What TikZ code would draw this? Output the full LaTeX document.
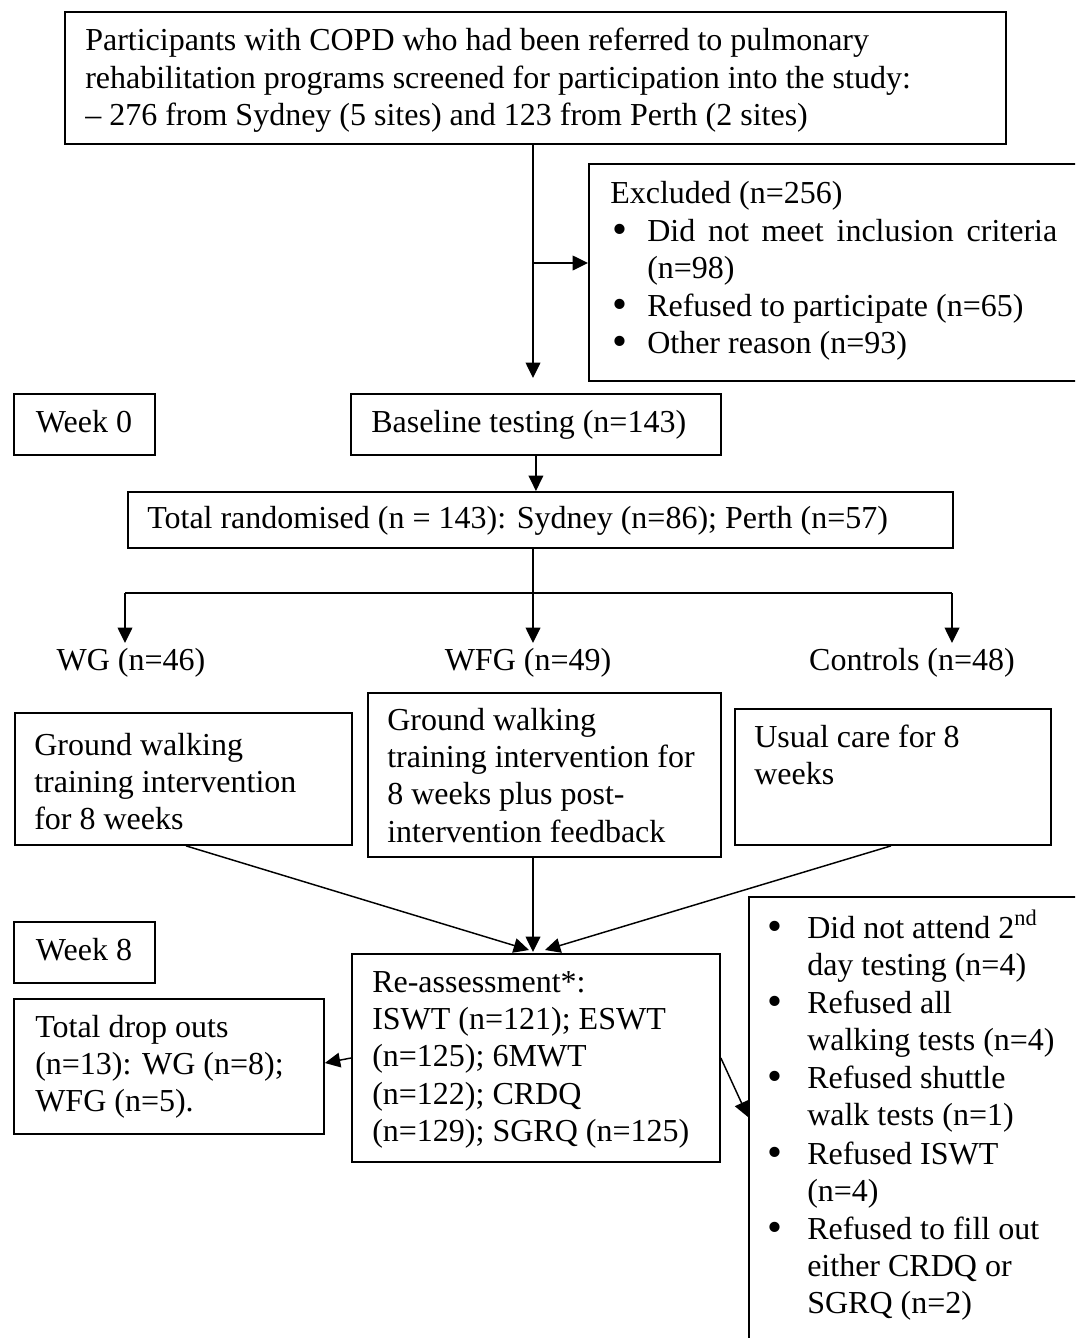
\documentclass[tikz,border=0pt]{standalone}
\usepackage{fontspec}
\setmainfont{Liberation Serif}
\usetikzlibrary{arrows.meta}
\newcommand{\mainsize}{\fontsize{24}{28.1}\selectfont}
\newcommand{\ml}[1]{\begin{tabular}[t]{@{}l@{}}#1\end{tabular}}
\tikzset{
  box/.style={draw, line width=1.4pt, anchor=north west, inner sep=0pt},
  txt/.style={anchor=base west, inner sep=0pt, font=\mainsize},
  ctxt/.style={anchor=base, inner sep=0pt, align=center, font=\mainsize},
  bul/.style={anchor=base, inner sep=0pt, font=\fontsize{32}{32}\selectfont},
  ln/.style={line width=1.1pt},
  arr/.style={line width=1.1pt, -{Triangle[length=11.5pt,width=11pt]}}
}
\begin{document}
\begin{tikzpicture}[x=0.75pt,y=-0.75pt]
\path[use as bounding box] (0,0) rectangle (1075,1338);
\clip (0,0) rectangle (1075,1338);
% boxes
\node[box, minimum width=941*0.75pt, minimum height=132*0.75pt] (top) at (64,11) {};
\node[box, minimum width=600*0.75pt, minimum height=217*0.75pt] (excl) at (588,163) {};
\node[box, minimum width=141*0.75pt, minimum height=61*0.75pt] (week0) at (13,393) {};
\node[box, minimum width=370*0.75pt, minimum height=61*0.75pt] (base) at (350,393) {};
\node[box, minimum width=825*0.75pt, minimum height=56*0.75pt] (rand) at (127,491) {};
\node[box, minimum width=337*0.75pt, minimum height=132*0.75pt] (boxWG) at (14,712) {};
\node[box, minimum width=353*0.75pt, minimum height=164*0.75pt] (boxWFG) at (367,692) {};
\node[box, minimum width=316*0.75pt, minimum height=136*0.75pt] (boxC) at (734,708) {};
\node[box, minimum width=141*0.75pt, minimum height=61*0.75pt] (week8) at (13,921) {};
\node[box, minimum width=368*0.75pt, minimum height=208*0.75pt] (reass) at (351,953) {};
\node[box, minimum width=310*0.75pt, minimum height=135*0.75pt] (drop) at (13,998) {};
\node[box, minimum width=400*0.75pt, minimum height=500*0.75pt] (rbox) at (748,896) {};
% texts
\node[txt] (topT) at (85,51) {\ml{Participants with COPD who had been referred to pulmonary\\rehabilitation programs screened for participation into the study:\\– 276 from Sydney (5 sites) and 123 from Perth (2 sites)}};
\node[txt] (exT) at (610,203) {Excluded (n=256)};
\node[bul] (exB1) at (620,243) {\textbullet};
\node[txt] (exT1) at (647,241) {\ml{\makebox[307.5pt][s]{Did not meet inclusion criteria}\\(n=98)}};
\node[bul] (exB2) at (620,318) {\textbullet};
\node[txt] (exT2) at (647,316) {Refused to participate (n=65)};
\node[bul] (exB3) at (620,355) {\textbullet};
\node[txt] (exT3) at (647,353) {Other reason (n=93)};
\node[ctxt] (w0T) at (84,432) {Week 0};
\node[txt] (baseT) at (371,432) {Baseline testing (n=143)};
\node[txt] (randT) at (147,528) {Total randomised (n = 143): Sydney (n=86); Perth (n=57)};
\node[ctxt] (lWG) at (131,670) {WG (n=46)};
\node[ctxt] (lWFG) at (528,670) {WFG (n=49)};
\node[ctxt] (lC) at (912,670) {Controls (n=48)};
\node[txt] (wgT) at (34,755) {\ml{Ground walking\\training intervention\\for 8 weeks}};
\node[txt] (wfgT) at (387,730) {\ml{Ground walking\\training intervention for\\8 weeks plus post-\\intervention feedback}};
\node[txt] (cT) at (754,747) {\ml{Usual care for 8\\weeks}};
\node[ctxt] (w8T) at (84,960) {Week 8};
\node[txt] (reT) at (372,992) {\ml{Re-assessment*:\\ISWT (n=121); ESWT\\(n=125); 6MWT\\(n=122); CRDQ\\(n=129); SGRQ (n=125)}};
\node[txt] (dropT) at (35,1037) {\ml{Total drop outs\\(n=13): WG (n=8);\\WFG (n=5).}};
\node[bul] (rB1) at (775,940) {\textbullet};
\node[txt] (rT1) at (807,938) {\ml{Did not attend 2\textsuperscript{nd}\\day testing (n=4)}};
\node[bul] (rB2) at (775,1015) {\textbullet};
\node[txt] (rT2) at (807,1013) {\ml{Refused all\\walking tests (n=4)}};
\node[bul] (rB3) at (775,1090) {\textbullet};
\node[txt] (rT3) at (807,1088) {\ml{Refused shuttle\\walk tests (n=1)}};
\node[bul] (rB4) at (775,1166) {\textbullet};
\node[txt] (rT4) at (807,1164) {\ml{Refused ISWT\\(n=4)}};
\node[bul] (rB5) at (775,1241) {\textbullet};
\node[txt] (rT5) at (807,1239) {\ml{Refused to fill out\\either CRDQ or\\SGRQ (n=2)}};
% connectors
\coordinate (t1) at (533,378);
\coordinate (b1) at (533,263);
\draw[arr] (top.south -| t1) -- (t1);
\draw[arr] (b1) -- (b1 -| excl.west);
\draw[arr] (base.south) -- (base.south |- rand.north);
\coordinate (sp) at (533,593);
\coordinate (hL) at (125,593);
\coordinate (hR) at (952,593);
\draw[ln] (rand.south -| sp) -- (sp);
\draw[ln] (hL) -- (hR);
\draw[arr] (hL) -- ++(0,50);
\draw[arr] (sp) -- ++(0,50);
\draw[arr] (hR) -- ++(0,50);
\coordinate (xL) at (186,0);
\coordinate (xM) at (533,0);
\coordinate (xR) at (891,0);
\coordinate (tipL) at (529,950);
\coordinate (tipM) at (533,952);
\coordinate (tipR) at (545,950);
\draw[arr] (boxWG.south -| xL) -- (tipL);
\draw[arr] (boxWFG.south -| xM) -- (tipM);
\draw[arr] (boxC.south -| xR) -- (tipR);
\coordinate (yA) at (0,1058);
\coordinate (yB) at (0,1063);
\coordinate (yC) at (0,1117);
\draw[arr] (reass.west |- yA) -- (drop.east |- yB);
\draw[arr] (reass.east |- yA) -- (rbox.west |- yC);
\end{tikzpicture}
\end{document}
